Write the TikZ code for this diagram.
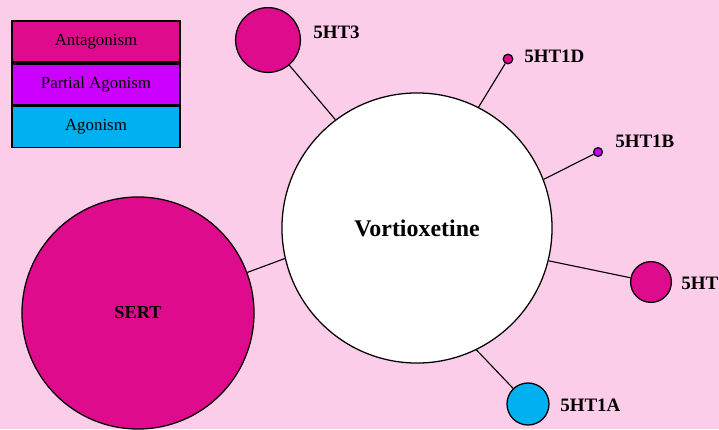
\documentclass[tikz,border=0pt]{standalone}
\usepackage{fontspec}
\setmainfont{Liberation Serif}
\usepackage{tikz}
\usetikzlibrary{positioning}
\definecolor{latarpink}{RGB}{252,205,232}
\definecolor{antagonis}{RGB}{222,12,140}
\definecolor{parsial}{RGB}{204,0,255}
\definecolor{agonis}{RGB}{0,176,240}

\begin{document}
\begin{tikzpicture}[
    x=0.025cm, y=-0.025cm,
    reseptor/.style={draw, circle, line width=0.9pt, inner sep=0pt, fill=antagonis},
    nama/.style={anchor=west, inner sep=0pt, font=\fontsize{13.5}{16}\selectfont\bfseries},
    legenda/.style={draw, line width=1.2pt, minimum width=4.2cm, minimum height=1.025cm,
                    inner sep=0pt, font=\fontsize{12}{14}\selectfont},
    garis/.style={line width=0.8pt}
  ]
    \fill[latarpink] (0,0) rectangle (719,429);

    % legenda
    \node[legenda, fill=antagonis] (leg1) at (96,41.5) {Antagonism};
    \node[legenda, fill=parsial, below=0pt of leg1] (leg2) {Partial Agonism};
    \node[legenda, fill=agonis, below=0pt of leg2] (leg3) {Agonism};

    % obat dan target
    \node[reseptor, fill=white, minimum size=6.75cm,
          font=\fontsize{17}{20}\selectfont\bfseries] (vort) at (417,228) {Vortioxetine};
    \node[reseptor, minimum size=5.8cm, font=\fontsize{13}{16}\selectfont\bfseries]
      (sert) at (138,313) {SERT};
    \node[reseptor, minimum size=1.62cm] (ht3) at (268,40) {};
    \node[reseptor, minimum size=0.24cm] (ht1d) at (508,59) {};
    \node[reseptor, fill=parsial, minimum size=0.22cm] (ht1b) at (598,152) {};
    \node[reseptor, minimum size=1.02cm] (ht) at (651,282) {};
    \node[reseptor, fill=agonis, minimum size=1.05cm] (ht1a) at (528,404) {};

    \foreach \n/\a in {sert/193,ht3/127,ht1d/63,ht1b/21,ht/-14,ht1a/-64}
      \draw[garis] (vort.\a) -- (\n);

    % label
    \node[nama] (lht3)  at (313,32)  {5HT3};
    \node[nama] (lht1d) at (524,56)  {5HT1D};
    \node[nama] (lht1b) at (615,141) {5HT1B};
    \node[nama] (lht)   at (681,283) {5HT};
    \node[nama] (lht1a) at (560,405) {5HT1A};
  \end{tikzpicture}
\end{document}
